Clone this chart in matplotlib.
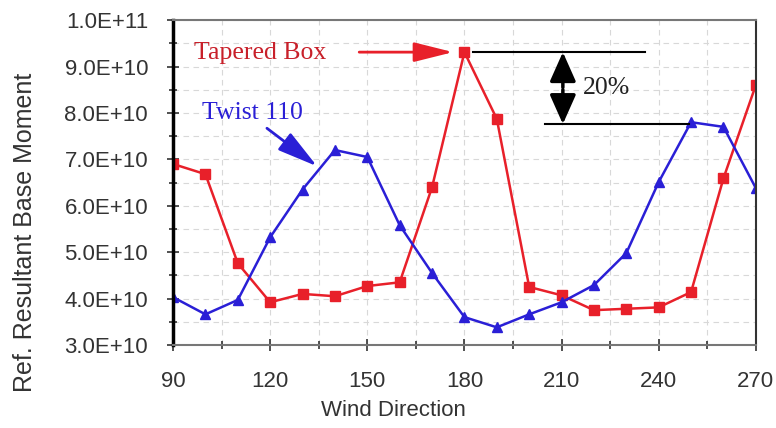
import numpy as np
import matplotlib.pyplot as plt
from matplotlib.ticker import MultipleLocator, FuncFormatter

# 風向與基底彎矩
wind_dir = list(range(90, 271, 10))
tapered_box = [6.90e10, 6.68e10, 4.76e10, 3.92e10, 4.10e10, 4.05e10, 4.27e10, 4.35e10, 6.40e10, 9.31e10,
               7.87e10, 4.25e10, 4.07e10, 3.75e10, 3.78e10, 3.81e10, 4.14e10, 6.59e10, 8.60e10]
twist_110 = [4.03e10, 3.66e10, 3.97e10, 5.32e10, 6.35e10, 7.20e10, 7.05e10, 5.58e10, 4.55e10, 3.60e10,
             3.38e10, 3.66e10, 3.92e10, 4.29e10, 4.98e10, 6.51e10, 7.80e10, 7.70e10, 6.38e10]
x_ticks = [90, 120, 150, 180, 210, 240, 270]
y_ticks = [3e10, 4e10, 5e10, 6e10, 7e10, 8e10, 9e10, 1e11]

plt.rcParams['font.family'] = ['Liberation Sans', 'DejaVu Sans']
fig = plt.figure(figsize=(7.76, 4.28), dpi=100)
ax = fig.add_axes([0.223, 0.194, 0.751, 0.759])

red = '#e8202a'
blue = '#2a1fd6'
ax.plot(wind_dir, tapered_box, color=red, marker='s', markersize=6.5, lw=1.8)
ax.plot(wind_dir, twist_110, color=blue, marker='^', markersize=6.5, lw=1.8)

ax.set_xlim(90, 270)
ax.set_ylim(3e10, 1e11)
ax.set_xticks(x_ticks)
ax.set_yticks(y_ticks)
ax.xaxis.set_minor_locator(MultipleLocator(15))
ax.yaxis.set_minor_locator(MultipleLocator(5e9))
ax.yaxis.set_major_formatter(FuncFormatter(lambda v, p: '%.1fE+%02d' % (v / 10 ** int(np.floor(np.log10(v))), int(np.floor(np.log10(v))))))
ax.tick_params(axis='both', which='both', direction='inout', labelsize=16, colors='#333333')
ax.tick_params(axis='both', which='major', length=8, width=1.2)
ax.tick_params(axis='both', which='minor', length=6, width=1.2)
ax.tick_params(axis='x', which='major', pad=15)
ax.tick_params(axis='y', which='major', pad=14)
ax.grid(True, which='both', ls=(0, (5, 4)), color='#d8d8d8', lw=0.8)

for s in ['top', 'bottom']:
    ax.spines[s].set_color('#777777')
    ax.spines[s].set_linewidth(1.5)
ax.spines['left'].set_linewidth(2.5)
ax.spines['left'].set_color('black')
ax.spines['right'].set_linewidth(1.5)
ax.spines['right'].set_color('#333333')

fig.text(393 / 776, 1 - 411 / 428, 'Wind Direction', fontsize=16, color='#333333', ha='center', va='center')
fig.text(25 / 776, 1 - 232 / 428, 'Ref. Resultant Base Moment', fontsize=18, color='#333333',
         ha='center', va='center', rotation=90)

# 標註
serif = ['Liberation Serif', 'DejaVu Serif']
ax.text(96.5, 9.3e10, 'Tapered Box', color='#c8202a', fontsize=18.5, family=serif, va='center')
ax.annotate('', xy=(176.5, 9.31e10), xytext=(147.5, 9.31e10),
            arrowprops=dict(arrowstyle='-|>,head_length=2.4,head_width=0.6', mutation_scale=10,
                            color=red, lw=2, shrinkA=0, shrinkB=0))
ax.text(99, 8.0e10, 'Twist 110', color=blue, fontsize=18.5, family=serif, va='center')
ax.annotate('', xy=(134.5, 6.85e10), xytext=(119, 7.67e10),
            arrowprops=dict(arrowstyle='-|>,head_length=2.5,head_width=0.65', mutation_scale=10,
                            color=blue, lw=2, shrinkA=0, shrinkB=0))

ax.plot([182.5, 235.7], [9.31e10, 9.31e10], color='black', lw=1.5)
ax.plot([204.8, 249.5], [7.76e10, 7.76e10], color='black', lw=1.5)
ax.annotate('', xy=(210.4, 9.31e10), xytext=(210.4, 8.55e10),
            arrowprops=dict(arrowstyle='-|>,head_length=1.8,head_width=0.8', mutation_scale=10,
                            color='black', lw=2.5, shrinkA=0, shrinkB=0))
ax.annotate('', xy=(210.4, 7.76e10), xytext=(210.4, 8.5e10),
            arrowprops=dict(arrowstyle='-|>,head_length=1.8,head_width=0.8', mutation_scale=10,
                            color='black', lw=2.5, shrinkA=0, shrinkB=0))
ax.text(216.5, 8.53e10, '20%', color='#222222', fontsize=18.5, family=serif, va='center')

plt.savefig('out.png', dpi=100)
